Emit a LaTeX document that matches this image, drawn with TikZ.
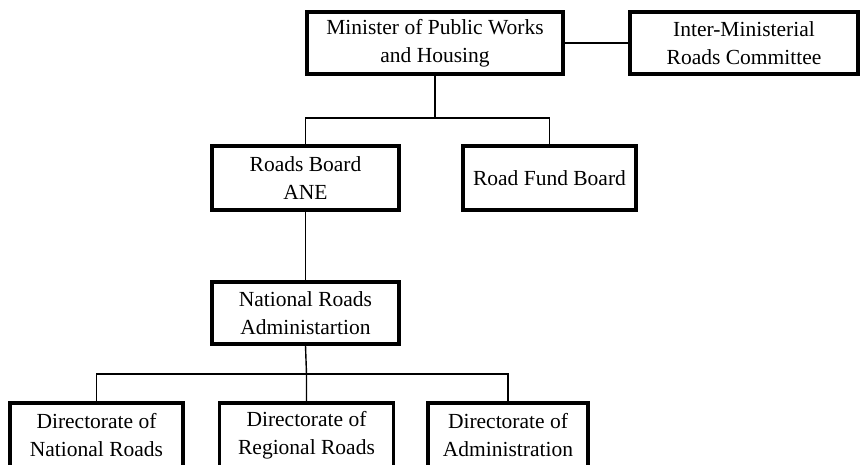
\documentclass[tikz,border=0pt]{standalone}
\usepackage{fontspec}
\setmainfont{Liberation Serif}
\begin{document}
\begin{tikzpicture}[x=1pt,y=-1pt,
  box/.style={draw,line width=3.2pt,align=center,inner sep=0pt,
    font=\fontsize{21.5}{27.5}\selectfont},
  conn/.style={line width=1.4pt}]
\useasboundingbox[fill=white] (0,0) rectangle (860,464);
% top row
\node[box,minimum width=256pt,minimum height=62pt] (min) at (435,43)
  {Minister of Public Works\\and Housing};
\node[box,minimum width=228pt,minimum height=62pt] (imc) at (744,43)
  {Inter-Ministerial\\Roads Committee};
% second row
\node[box,minimum width=187pt,minimum height=64pt] (rb) at (305.5,178)
  {Roads Board\\ANE};
\node[box,minimum width=173pt,minimum height=64pt] (rfb) at (549.5,178)
  {Road Fund Board};
% third row
\node[box,minimum width=187pt,minimum height=62pt] (nra) at (305.5,313)
  {National Roads\\Administartion};
% bottom row
\node[box,minimum width=173pt,minimum height=64pt] (d1) at (96.5,435)
  {Directorate of\\National Roads};
\node[box,minimum width=174pt,minimum height=64pt] (d2) at (306.5,435)
  {Directorate of\\Regional Roads};
\node[box,minimum width=160pt,minimum height=64pt] (d3) at (508,435)
  {Directorate of\\Administration};
% connectors
\coordinate (j1) at (435,118);
\coordinate (j2) at (306.5,374);
\draw[conn] (min.east) -- (imc.west);
\draw[conn] (min.south) -- (j1);
\draw[conn] (rb.north) |- (j1) -| (rfb.north);
\draw[conn] (rb.south) -- (nra.north);
\draw[conn] (nra.south) -- (j2) -- (d2.north);
\draw[conn] (d1.north) |- (j2) -| (d3.north);
\end{tikzpicture}
\end{document}
